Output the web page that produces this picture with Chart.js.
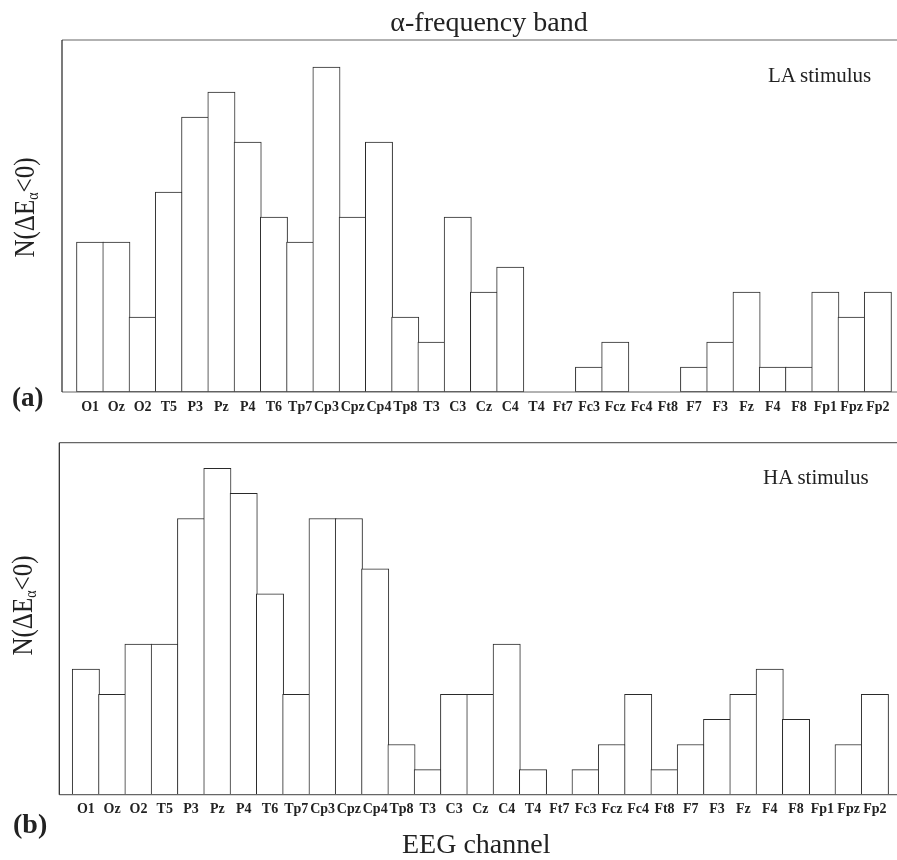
<!DOCTYPE html>
<html>
<head>
<meta charset="utf-8">
<script src="https://cdn.jsdelivr.net/npm/chart.js@4"></script>
<style>
  body { margin: 0; background: #fff; }
  #wrap { position: relative; width: 897px; height: 860px; font-family: "Liberation Serif", "Times New Roman", serif; color: #222; }
  canvas { position: absolute; left: 0; }
  .t { position: absolute; line-height: 1; white-space: nowrap; }
  .ylab { position: absolute; line-height: 1; white-space: nowrap; font-size: 25px; transform-origin: center center; }
  .ylab sub { font-size: 14px; vertical-align: -3px; }
</style>
</head>
<body>
<div id="wrap">
  <canvas id="chartA" width="897" height="430" style="top:0"></canvas>
  <canvas id="chartB" width="897" height="430" style="top:430px"></canvas>

  <div class="t" style="left:489px; top:8px; font-size:28px; transform:translateX(-50%)">α-frequency band</div>
  <div class="t" style="left:768px; top:65px; font-size:21px">LA stimulus</div>
  <div class="t" style="left:763px; top:467px; font-size:21px">HA stimulus</div>
  <div class="t" style="left:12px; top:384px; font-size:27px; font-weight:bold">(a)</div>
  <div class="t" style="left:13px; top:810px; font-size:28px; font-weight:bold">(b)</div>
  <div class="t" style="left:402px; top:830px; font-size:28px">EEG channel</div>
  <div class="ylab" id="ylabA">N(ΔE<sub>α</sub>&lt;0)</div>
  <div class="ylab" id="ylabB">N(ΔE<sub>α</sub>&lt;0)</div>
</div>
<script>
const channels = ['O1', 'Oz', 'O2', 'T5', 'P3', 'Pz', 'P4', 'T6', 'Tp7', 'Cp3', 'Cpz', 'Cp4', 'Tp8', 'T3',
  'C3', 'Cz', 'C4', 'T4', 'Ft7', 'Fc3', 'Fcz', 'Fc4', 'Ft8', 'F7', 'F3', 'Fz', 'F4', 'F8', 'Fp1', 'Fpz', 'Fp2'];
const countsLA = [6, 6, 3, 8, 11, 12, 10, 7, 6, 13, 7, 10, 3, 2, 7, 4, 5, 0, 0, 1, 2, 0, 0, 1, 2, 4, 1, 1, 4, 3, 4];
const countsHA = [5, 4, 6, 6, 11, 13, 12, 8, 4, 11, 11, 9, 2, 1, 4, 4, 6, 1, 0, 1, 2, 4, 1, 2, 3, 4, 5, 3, 0, 2, 4];

// place the rotated y axis titles
function placeYLabel(id, cx, cy) {
  const el = document.getElementById(id);
  const w = el.offsetWidth, h = el.offsetHeight;
  el.style.left = (cx - w / 2) + 'px';
  el.style.top = (cy - h / 2) + 'px';
  el.style.transform = 'rotate(-90deg) scale(1, 1.2)';
}
placeYLabel('ylabA', 25, 207);
placeYLabel('ylabB', 23, 605);

// left, top and bottom lines of each panel
const framePlugin = {
  id: 'frame',
  afterDraw(chart) {
    const { ctx, chartArea: a } = chart;
    ctx.save();
    ctx.lineWidth = 1.2;
    ctx.strokeStyle = '#666';
    ctx.beginPath();
    ctx.moveTo(a.left, a.top);
    ctx.lineTo(a.right, a.top);
    ctx.moveTo(a.left, a.bottom);
    ctx.lineTo(a.right, a.bottom);
    ctx.stroke();
    ctx.strokeStyle = '#222';
    ctx.beginPath();
    ctx.moveTo(a.left, a.top);
    ctx.lineTo(a.left, a.bottom);
    ctx.stroke();
    ctx.restore();
  }
};

function makePanel(id, counts, opts) {
  new Chart(document.getElementById(id), {
    type: 'bar',
    data: {
      datasets: [{
        data: counts.map((v, i) => ({ x: i, y: v })),
        backgroundColor: '#fff',
        borderColor: '#2a2a2a',
        borderWidth: 1,
        borderSkipped: false,
        barThickness: opts.unit + 1
      }]
    },
    options: {
      responsive: false,
      animation: false,
      layout: { padding: { left: opts.left, top: opts.top, right: 0, bottom: 0 } },
      plugins: { legend: { display: false }, tooltip: { enabled: false } },
      scales: {
        x: {
          type: 'linear',
          offset: false,
          min: opts.xmin,
          max: opts.xmax,
          grid: { display: false, drawTicks: false },
          border: { display: false },
          afterBuildTicks: (axis) => { axis.ticks = channels.map((_, i) => ({ value: i })); },
          afterFit: (axis) => { axis.height = opts.axisH; },
          ticks: {
            autoSkip: false,
            maxRotation: 0,
            minRotation: 0,
            padding: opts.tickPad,
            color: '#222',
            font: { family: 'Liberation Serif', size: 14, weight: 'bold' },
            callback: (v) => channels[v]
          }
        },
        y: { display: false, min: 0, max: opts.ymax }
      }
    },
    plugins: [framePlugin]
  });
}

makePanel('chartA', countsLA, { left: 62, top: 40, axisH: 38, xmin: -1.071, xmax: 30.729, unit: 26.26, ymax: 14.08, tickPad: 7 });
makePanel('chartB', countsHA, { left: 59.3, top: 12.7, axisH: 65.3, xmin: -1.01, xmax: 30.84, unit: 26.3, ymax: 14.02, tickPad: 6 });
</script>
</body>
</html>
